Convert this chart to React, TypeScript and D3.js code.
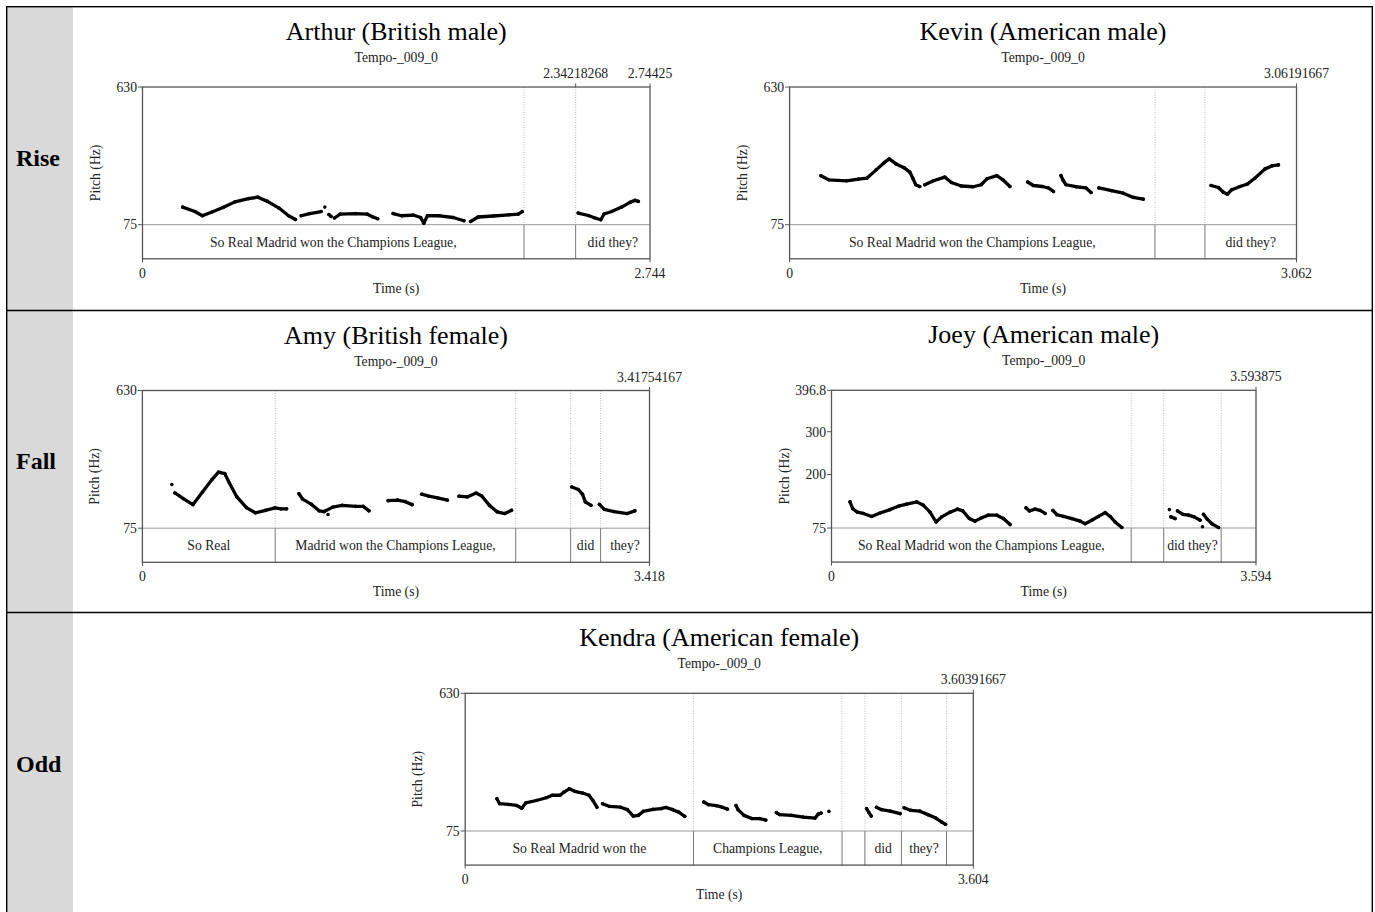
import React from "react";
import * as d3 from "d3";

type Pt = [number, number];

const rowLabels = ["Rise", "Fall", "Odd"];
const subtitle = "Tempo-_009_0";

// pitch contours (time s, Hz), one array per voiced stretch
const arthurPitch: Pt[][] = [
  [[0.217, 146], [0.283, 128], [0.324, 111], [0.376, 126], [0.438, 145], [0.5, 167], [0.573, 180], [0.624, 186], [0.676, 169], [0.738, 142], [0.79, 111], [0.827, 96]],
  [[0.858, 111], [0.904, 120], [0.966, 128]],
  [[0.986, 146]],
  [[1.008, 116], [1.02, 108]],
  [[1.038, 102], [1.069, 118], [1.152, 120], [1.214, 118], [1.246, 106], [1.272, 99]],
  [[1.355, 120], [1.401, 111], [1.463, 114], [1.504, 104], [1.521, 81], [1.541, 111], [1.607, 111], [1.68, 104], [1.738, 91]],
  [[1.774, 88], [1.815, 106], [1.897, 110], [1.98, 115], [2.032, 118], [2.053, 128]],
  [[2.356, 122], [2.411, 112], [2.447, 102], [2.478, 95], [2.496, 118], [2.537, 128], [2.591, 146], [2.636, 165], [2.663, 173], [2.681, 169]],
];
const kevinPitch: Pt[][] = [
  [[0.189, 272], [0.236, 256], [0.344, 252], [0.416, 259], [0.468, 263], [0.523, 296], [0.571, 325], [0.602, 340], [0.643, 320], [0.691, 305], [0.726, 287], [0.746, 260], [0.762, 236], [0.786, 229]],
  [[0.817, 236], [0.869, 252], [0.937, 267], [0.977, 245], [1.037, 231], [1.109, 228], [1.157, 236], [1.192, 260], [1.252, 273], [1.288, 256], [1.331, 229]],
  [[1.438, 247], [1.472, 233], [1.527, 229], [1.563, 223], [1.594, 209]],
  [[1.639, 273], [1.653, 253], [1.67, 236], [1.73, 228], [1.79, 223], [1.821, 205]],
  [[1.868, 223], [1.945, 212], [2.016, 202], [2.076, 185], [2.136, 178]],
  [[2.546, 233], [2.59, 225], [2.62, 206], [2.645, 198], [2.671, 216], [2.721, 229], [2.766, 239], [2.812, 263], [2.872, 300], [2.913, 312], [2.953, 316]],
];
const amyPitch: Pt[][] = [
  [[0.198, 251]],
  [[0.219, 217], [0.276, 194], [0.34, 170], [0.405, 221], [0.469, 271], [0.513, 301], [0.555, 295], [0.586, 257], [0.637, 201], [0.701, 158], [0.761, 137], [0.83, 147], [0.894, 157], [0.933, 153], [0.972, 153]],
  [[1.055, 214], [1.08, 192], [1.14, 171], [1.191, 145], [1.225, 142], [1.282, 160], [1.346, 167], [1.436, 163], [1.488, 163], [1.527, 145]],
  [[1.251, 130]],
  [[1.656, 186], [1.72, 188], [1.772, 182], [1.818, 170]],
  [[1.882, 212], [1.931, 204], [1.99, 197], [2.055, 188]],
  [[2.133, 204], [2.189, 201], [2.249, 217], [2.287, 205], [2.339, 167], [2.39, 141], [2.442, 134], [2.488, 147]],
  [[2.894, 241], [2.938, 231], [2.966, 212], [2.985, 181], [3.023, 167]],
  [[3.08, 171], [3.113, 151], [3.178, 142], [3.268, 134], [3.319, 145]],
];
const joeyPitch: Pt[][] = [
  [[0.157, 136], [0.18, 120], [0.219, 112], [0.27, 109], [0.34, 102], [0.411, 110], [0.496, 118], [0.566, 126], [0.637, 131], [0.722, 136], [0.778, 128], [0.834, 112], [0.885, 89], [0.933, 101], [1.004, 112], [1.066, 119], [1.111, 115], [1.167, 97], [1.215, 91], [1.272, 99], [1.328, 105], [1.399, 105], [1.455, 97], [1.512, 83]],
  [[1.647, 122], [1.676, 115], [1.724, 119], [1.766, 116], [1.808, 109]],
  [[1.874, 116], [1.908, 106], [1.964, 102], [2.035, 97], [2.105, 91], [2.147, 85], [2.204, 93], [2.26, 102], [2.317, 111], [2.359, 102], [2.401, 89], [2.458, 76]],
  [[2.861, 118]],
  [[2.873, 101], [2.909, 97]],
  [[2.929, 115], [2.975, 107], [3.022, 105], [3.07, 101], [3.121, 93]],
  [[3.141, 78]],
  [[3.149, 107], [3.183, 95], [3.22, 85], [3.277, 76]],
];
const kendraPitch: Pt[][] = [
  [[0.225, 205], [0.244, 185], [0.309, 182], [0.365, 178], [0.401, 167], [0.429, 188], [0.505, 198], [0.575, 209], [0.617, 219], [0.673, 219], [0.701, 232], [0.738, 245], [0.777, 235], [0.833, 228], [0.878, 219], [0.906, 198], [0.934, 171]],
  [[0.974, 185], [1.024, 174], [1.102, 171], [1.15, 161], [1.192, 135], [1.228, 138], [1.262, 154], [1.333, 162], [1.389, 165], [1.422, 170], [1.472, 161], [1.515, 151], [1.557, 134]],
  [[1.692, 192], [1.725, 181], [1.781, 177], [1.823, 171], [1.86, 163]],
  [[1.921, 178], [1.935, 161], [1.977, 138], [2.033, 125], [2.089, 125], [2.132, 119]],
  [[2.207, 149], [2.23, 141], [2.314, 138], [2.398, 131], [2.482, 127], [2.504, 143], [2.524, 147]],
  [[2.58, 154]],
  [[2.847, 165], [2.864, 149], [2.88, 135]],
  [[2.917, 171], [2.953, 161], [3.015, 155], [3.085, 145]],
  [[3.113, 169], [3.161, 158], [3.225, 155], [3.282, 141], [3.338, 127], [3.38, 111], [3.407, 102]],
];

// TextGrid boundaries (s) and interval labels
const arthurBounds = [2.063, 2.34218268];
const kevinBounds = [2.207, 2.509];
const amyBounds = [0.895, 2.516, 2.886, 3.088];
const joeyBounds = [2.537, 2.813, 3.299];
const kendraBounds = [1.619, 2.673, 2.835, 3.094, 3.414];

const arthurWords = ["So Real Madrid won the Champions League,", "", "did they?"];
const kevinWords = ["So Real Madrid won the Champions League,", "", "did they?"];
const amyWords = ["So Real", "Madrid won the Champions League,", "", "did", "they?"];
const joeyWords = ["So Real Madrid won the Champions League,", "", "did they?", ""];
const kendraWords = ["So Real Madrid won the", "Champions League,", "", "did", "they?", ""];

// time marks on top of each frame
const arthurTop: [number, string][] = [[2.34218268, "2.34218268"], [2.74425, "2.74425"]];
const kevinTop: [number, string][] = [[3.06191667, "3.06191667"]];
const amyTop: [number, string][] = [[3.41754167, "3.41754167"]];
const joeyTop: [number, string][] = [[3.593875, "3.593875"]];
const kendraTop: [number, string][] = [[3.60391667, "3.60391667"]];

const defaultHz = [75, 630];
const joeyHz = [75, 200, 300, 396.8];

const panels = [
  { title: "Arthur (British male)", end: 2.74425, endLabel: "2.744", hz: defaultHz, pitch: arthurPitch, bounds: arthurBounds, words: arthurWords, top: arthurTop, left: 142.5, right: 650, y0: 87 },
  { title: "Kevin (American male)", end: 3.06191667, endLabel: "3.062", hz: defaultHz, pitch: kevinPitch, bounds: kevinBounds, words: kevinWords, top: kevinTop, left: 789.6, right: 1296.5, y0: 87 },
  { title: "Amy (British female)", end: 3.41754167, endLabel: "3.418", hz: defaultHz, pitch: amyPitch, bounds: amyBounds, words: amyWords, top: amyTop, left: 142.4, right: 649.5, y0: 390.5 },
  { title: "Joey (American male)", end: 3.593875, endLabel: "3.594", hz: joeyHz, pitch: joeyPitch, bounds: joeyBounds, words: joeyWords, top: joeyTop, left: 831.5, right: 1256, y0: 390.3 },
  { title: "Kendra (American female)", end: 3.60391667, endLabel: "3.604", hz: defaultHz, pitch: kendraPitch, bounds: kendraBounds, words: kendraWords, top: kendraTop, left: 465.2, right: 973.3, y0: 693.3 },
];

const FONT = "'Liberation Serif', 'Times New Roman', serif";
const SMALL = 13.7;

function Panel({ p }: { p: any }) {
  const top = p.y0;
  const tier = top + 137.7;
  const bottom = top + 171.8;
  const x = d3.scaleLinear().domain([0, p.end]).range([p.left, p.right]);
  const y = d3.scaleLinear().domain([75, d3.max(p.hz as number[])!]).range([tier, top]);
  const line = d3.line<Pt>().x(d => x(d[0])).y(d => y(d[1]));
  const cx = (p.left + p.right) / 2;
  const edges = [0, ...p.bounds, p.end];
  const frame = "#555";

  return (
    <g fontFamily={FONT}>
      <text x={cx} y={top - 47} textAnchor="middle" fontSize={26} fill="#000">{p.title}</text>
      <text x={cx} y={top - 25} textAnchor="middle" fontSize={SMALL} fill="#222">{subtitle}</text>

      {/* boundaries: dotted in pitch area, solid in tier */}
      {p.bounds.map((b: number, i: number) => (
        <g key={i}>
          <line x1={x(b)} x2={x(b)} y1={top} y2={tier} stroke="#aaa" strokeWidth={0.8} strokeDasharray="1,1.5" />
          <line x1={x(b)} x2={x(b)} y1={tier} y2={bottom} stroke="#777" strokeWidth={1} />
        </g>
      ))}

      <line x1={p.left} x2={p.right} y1={tier} y2={tier} stroke="#999" strokeWidth={1} />
      <rect x={p.left} y={top} width={p.right - p.left} height={bottom - top} fill="none" stroke={frame} strokeWidth={1.3} />

      {/* interval labels */}
      {p.words.map((w: string, i: number) => w ? (
        <text key={i} x={(x(edges[i]) + x(edges[i + 1])) / 2} y={(tier + bottom) / 2} dy="0.35em" textAnchor="middle" fontSize={SMALL} fill="#222">{w}</text>
      ) : null)}

      {/* y axis */}
      {p.hz.map((h: number) => (
        <g key={h}>
          <line x1={p.left - 4.5} x2={p.left} y1={y(h)} y2={y(h)} stroke={frame} strokeWidth={1} />
          <text x={p.left - 5.5} y={y(h)} dy="0.35em" textAnchor="end" fontSize={SMALL} fill="#222">{h}</text>
        </g>
      ))}
      <text transform={`translate(${p.left - 43},${(top + bottom) / 2}) rotate(-90)`} textAnchor="middle" fontSize={SMALL} fill="#222">Pitch (Hz)</text>

      {/* top time marks */}
      {p.top.map(([t, lab]: [number, string]) => (
        <g key={lab}>
          <line x1={x(t)} x2={x(t)} y1={top - 3.5} y2={top} stroke={frame} strokeWidth={1} />
          <text x={x(t)} y={top - 9} textAnchor="middle" fontSize={SMALL} fill="#222">{lab}</text>
        </g>
      ))}

      {/* bottom time axis */}
      <line x1={x(0)} x2={x(0)} y1={bottom} y2={bottom + 3.5} stroke={frame} strokeWidth={1} />
      <line x1={x(p.end)} x2={x(p.end)} y1={bottom} y2={bottom + 3.5} stroke={frame} strokeWidth={1} />
      <text x={x(0)} y={bottom + 19} textAnchor="middle" fontSize={SMALL} fill="#222">0</text>
      <text x={x(p.end)} y={bottom + 19} textAnchor="middle" fontSize={SMALL} fill="#222">{p.endLabel}</text>
      <text x={cx} y={bottom + 34} textAnchor="middle" fontSize={SMALL} fill="#222">Time (s)</text>

      {/* pitch contour */}
      {p.pitch.map((seg: Pt[], i: number) => (
        <g key={i}>
          {seg.length > 1 && (
            <path d={line(seg)!} fill="none" stroke="#000" strokeWidth={3.3} strokeLinecap="round" strokeLinejoin="round" />
          )}
          {seg.map((d, j) => (
            <circle key={j} cx={x(d[0])} cy={y(d[1])} r={1.8} fill="#000" />
          ))}
        </g>
      ))}
    </g>
  );
}

export default function App() {
  const W = 1375, H = 912;
  const rowLines = [310.5, 612.5];
  const labelY = [166, 469, 772];
  return (
    <svg width={W} height={H} style={{ position: "absolute", left: 0, top: 0, background: "#fff" }}>
      <rect x={0} y={0} width={W} height={H} fill="#fff" />
      <rect x={7} y={7} width={66} height={H} fill="#d9d9d9" />
      <rect x={6.7} y={6.7} width={1365.6} height={H + 20} fill="none" stroke="#000" strokeWidth={1.4} />
      {rowLines.map(ly => (
        <line key={ly} x1={6.7} x2={1372.3} y1={ly} y2={ly} stroke="#000" strokeWidth={1.4} />
      ))}
      {rowLabels.map((l, i) => (
        <text key={l} x={16} y={labelY[i]} fontFamily={FONT} fontWeight="bold" fontSize={24} fill="#000">{l}</text>
      ))}
      {panels.map(p => <Panel key={p.title} p={p} />)}
    </svg>
  );
}
